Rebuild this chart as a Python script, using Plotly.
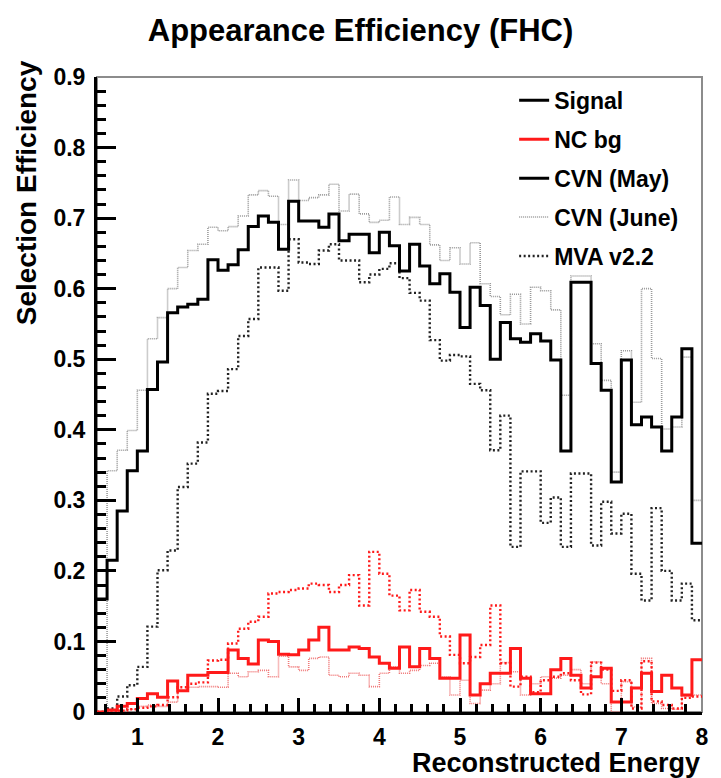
import numpy as np
import plotly.graph_objects as go

# Binning of the histograms (reconstructed energy)
bin_low, bin_width, n_bins = 0.5, 0.125, 60
energy_edges = np.round(bin_low + bin_width * np.arange(n_bins + 1), 4)

# Signal efficiency
cvn_may_signal = [0.160, 0.215, 0.285, 0.342, 0.370, 0.457, 0.496, 0.566, 0.574, 0.578,
                  0.585, 0.641, 0.626, 0.634, 0.655, 0.688, 0.703, 0.694, 0.656, 0.724,
                  0.696, 0.696, 0.687, 0.706, 0.668, 0.677, 0.677, 0.651, 0.680, 0.661,
                  0.625, 0.663, 0.632, 0.607, 0.621, 0.595, 0.545, 0.602, 0.576, 0.500,
                  0.552, 0.529, 0.524, 0.536, 0.526, 0.499, 0.370, 0.609, 0.609, 0.494,
                  0.456, 0.326, 0.499, 0.407, 0.418, 0.404, 0.370, 0.418, 0.515, 0.239]
cvn_june_signal = [0.000, 0.342, 0.371, 0.399, 0.456, 0.529, 0.559, 0.600, 0.630, 0.654,
                   0.663, 0.687, 0.682, 0.688, 0.703, 0.733, 0.739, 0.731, 0.691, 0.754,
                   0.725, 0.729, 0.733, 0.748, 0.710, 0.734, 0.706, 0.694, 0.697, 0.730,
                   0.691, 0.701, 0.691, 0.662, 0.640, 0.658, 0.635, 0.665, 0.607, 0.589,
                   0.563, 0.592, 0.550, 0.602, 0.597, 0.570, 0.449, 0.618, 0.618, 0.522,
                   0.470, 0.340, 0.512, 0.439, 0.600, 0.501, 0.401, 0.404, 0.503, 0.300]
mva_signal = [0.000, 0.005, 0.022, 0.038, 0.064, 0.121, 0.201, 0.229, 0.319, 0.352,
              0.382, 0.451, 0.455, 0.486, 0.533, 0.557, 0.630, 0.630, 0.597, 0.670,
              0.637, 0.635, 0.654, 0.663, 0.640, 0.640, 0.609, 0.620, 0.628, 0.636,
              0.615, 0.594, 0.583, 0.527, 0.498, 0.506, 0.504, 0.465, 0.456, 0.371,
              0.420, 0.234, 0.341, 0.341, 0.268, 0.304, 0.234, 0.338, 0.338, 0.236,
              0.298, 0.253, 0.281, 0.196, 0.158, 0.289, 0.200, 0.158, 0.182, 0.130]

# NC background efficiency
cvn_may_nc = [0.000, 0.003, 0.008, 0.012, 0.019, 0.026, 0.021, 0.044, 0.030, 0.052,
              0.052, 0.056, 0.056, 0.088, 0.076, 0.068, 0.102, 0.100, 0.082, 0.081,
              0.088, 0.102, 0.120, 0.088, 0.088, 0.092, 0.090, 0.078, 0.069, 0.062,
              0.092, 0.064, 0.090, 0.076, 0.048, 0.048, 0.109, 0.024, 0.040, 0.055,
              0.055, 0.090, 0.048, 0.026, 0.026, 0.060, 0.076, 0.052, 0.034, 0.050,
              0.062, 0.014, 0.014, 0.034, 0.055, 0.029, 0.052, 0.034, 0.024, 0.074]
cvn_june_nc = [0.000, 0.000, 0.002, 0.004, 0.008, 0.010, 0.008, 0.014, 0.030, 0.035,
               0.036, 0.036, 0.035, 0.055, 0.050, 0.057, 0.059, 0.050, 0.079, 0.064,
               0.059, 0.076, 0.078, 0.052, 0.050, 0.055, 0.052, 0.036, 0.055, 0.064,
               0.055, 0.059, 0.066, 0.069, 0.050, 0.024, 0.045, 0.012, 0.031, 0.040,
               0.070, 0.057, 0.024, 0.040, 0.050, 0.048, 0.052, 0.060, 0.040, 0.071,
               0.040, 0.000, 0.043, 0.007, 0.076, 0.012, 0.005, 0.004, 0.022, 0.024]
mva_nc = [0.000, 0.000, 0.002, 0.004, 0.006, 0.008, 0.010, 0.021, 0.035, 0.040,
          0.042, 0.073, 0.074, 0.097, 0.118, 0.128, 0.135, 0.168, 0.170, 0.173,
          0.175, 0.182, 0.180, 0.170, 0.180, 0.194, 0.151, 0.227, 0.196, 0.165,
          0.144, 0.173, 0.142, 0.135, 0.107, 0.081, 0.069, 0.078, 0.095, 0.151,
          0.069, 0.036, 0.050, 0.028, 0.045, 0.050, 0.055, 0.045, 0.025, 0.070,
          0.060, 0.030, 0.045, 0.005, 0.072, 0.015, 0.010, 0.005, 0.020, 0.022]

y_tick_vals = [0, 0.1, 0.2, 0.3, 0.4, 0.5, 0.6, 0.7, 0.8, 0.9]
y_tick_text = ["0", "0.1", "0.2", "0.3", "0.4", "0.5", "0.6", "0.7", "0.8", "0.9"]
x_tick_vals = [1, 2, 3, 4, 5, 6, 7, 8]

GRAY_DOT = dict(color="#9a9a9a", width=1.6, dash="1px,1px")
BLACK_DOT = dict(color="#222222", width=2.4, dash="2px,2.5px")
RED = "#ff1a1a"

legend_entries = [
    ("Signal", dict(color="black", width=3, dash="solid")),
    ("NC bg", dict(color=RED, width=3, dash="solid")),
    ("CVN (May)", dict(color="black", width=3, dash="solid")),
    ("CVN (June)", GRAY_DOT),
    ("MVA v2.2", BLACK_DOT),
]

FONT = "Liberation Sans, Arial, Helvetica, sans-serif"


def step(vals):
    x = list(energy_edges)
    y = list(vals) + [vals[-1]]
    return x, y


fig = go.Figure()
series = [
    (cvn_june_signal, GRAY_DOT),
    (mva_signal, BLACK_DOT),
    (cvn_may_signal, dict(color="black", width=3)),
    (cvn_june_nc, dict(color="#f07878", width=1.6, dash="1px,1px")),
    (mva_nc, dict(color=RED, width=2.4, dash="2px,2.5px")),
    (cvn_may_nc, dict(color=RED, width=3)),
]
for vals, line in series:
    x, y = step(vals)
    fig.add_trace(go.Scatter(x=x, y=y, mode="lines", line=dict(shape="hv", **line),
                             showlegend=False, hoverinfo="skip"))

for i, (name, line) in enumerate(legend_entries):
    fig.add_trace(go.Scatter(x=[None], y=[None], mode="lines", name=name, line=line,
                             legendgroup=f"g{i}", showlegend=True))

fig.update_layout(
    width=721, height=778,
    margin=dict(l=97, r=12, t=77, b=66),
    paper_bgcolor="white", plot_bgcolor="white",
    font=dict(family=FONT, color="black"),
    title=dict(text="Appearance Efficiency (FHC)", x=0.5, xanchor="center",
               y=1 - 30 / 778, yanchor="middle",
               font=dict(family=FONT, size=31, weight="bold", color="black")),
    legend=dict(x=0.6895, y=0.997, xanchor="left", yanchor="top",
                bgcolor="rgba(0,0,0,0)", borderwidth=0,
                font=dict(family=FONT, size=23, weight="bold", color="black"),
                tracegroupgap=6, traceorder="grouped", itemwidth=30),
    xaxis=dict(range=[0.5, 8.0], tickvals=x_tick_vals, ticks="inside", ticklen=14,
               tickwidth=3, tickcolor="black", showline=True, linewidth=3,
               linecolor="black", showgrid=False, zeroline=False,
               tickfont=dict(family=FONT, size=23, weight="bold"),
               ticklabelstandoff=2,
               minor=dict(ticks="inside", dtick=0.2, tick0=0, ticklen=8,
                          tickwidth=3, tickcolor="black", showgrid=False)),
    yaxis=dict(range=[0, 0.9], tickvals=y_tick_vals, ticktext=y_tick_text,
               ticks="inside", ticklen=19, tickwidth=3, tickcolor="black",
               showline=True, linewidth=3, linecolor="black", showgrid=False,
               zeroline=False, tickfont=dict(family=FONT, size=23, weight="bold"),
               ticklabelstandoff=4,
               minor=dict(ticks="inside", dtick=0.02, tick0=0, ticklen=9,
                          tickwidth=3, tickcolor="black", showgrid=False)),
    shapes=[dict(type="rect", xref="paper", yref="paper", x0=0, x1=1, y0=0, y1=1,
                 line=dict(color="#8c8c8c", width=2), layer="below")],
    annotations=[
        dict(text="Reconstructed Energy", xref="paper", yref="paper", x=1.0, y=-0.0805,
             xanchor="right", yanchor="middle", showarrow=False,
             font=dict(family=FONT, size=27, weight="bold", color="black")),
        dict(text="Selection Efficiency", xref="paper", yref="paper", x=-0.116, y=1.03,
             xanchor="center", yanchor="top", textangle=-90, showarrow=False,
             font=dict(family=FONT, size=28, weight="bold", color="black")),
    ],
)

fig.write_html("out.html", config={"displayModeBar": False},
               post_script="document.body.style.margin='0px';")
